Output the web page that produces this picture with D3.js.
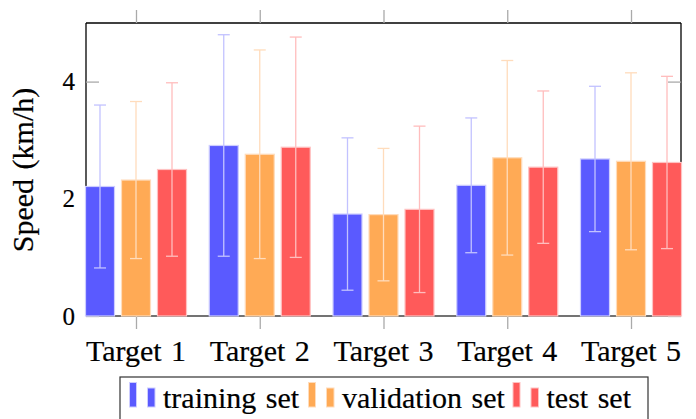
<!DOCTYPE html>
<html>
<head>
<meta charset="utf-8">
<script src="https://cdn.jsdelivr.net/npm/d3@7"></script>
<style>
  html, body { margin: 0; padding: 0; background: #fff; }
  svg text { stroke: #000; stroke-width: 0.2px; }
</style>
</head>
<body>
<svg id="chart" width="696" height="419"></svg>
<script>
// Mean speed per target and its standard deviation, for each data split
const categories = ["Target 1", "Target 2", "Target 3", "Target 4", "Target 5"];
const seriesNames = ["training set", "validation set", "test set"];
const trainingMean = [2.21, 2.91, 1.74, 2.23, 2.68];
const trainingStd = [1.39, 1.89, 1.30, 1.15, 1.24];
const validationMean = [2.32, 2.76, 1.73, 2.70, 2.64];
const validationStd = [1.34, 1.78, 1.13, 1.66, 1.51];
const testMean = [2.50, 2.88, 1.82, 2.54, 2.62];
const testStd = [1.48, 1.88, 1.42, 1.30, 1.47];
const yTicks = [0, 2, 4];
const yLabel = "Speed (km/h)";

const means = [trainingMean, validationMean, testMean];
const stds = [trainingStd, validationStd, testStd];
const fills = ["#5a5aff", "#ffaa55", "#ff5a5a"];
const edges = ["#cdcdff", "#ffdcbb", "#ffc2c2"];
const errColors = ["#c2c2ff", "#ffdcbc", "#ffbdbd"];
const serif = "Liberation Serif";

const svg = d3.select("#chart").attr("font-family", serif);
const plotLeft = 86, plotRight = 681, plotTop = 23, plotBottom = 316;

const x = d3.scaleLinear().domain([0.596, 5.404]).range([plotLeft, plotRight]);
const y = d3.scaleLinear().domain([0, 5]).range([plotBottom, plotTop]);

const barShift = 36, barWidth = 29, capHalf = 6;

// frame
const frame = svg.append("g");
frame.append("line").attr("x1", plotLeft).attr("x2", plotRight).attr("y1", plotBottom).attr("y2", plotBottom)
  .attr("stroke", "#444").attr("stroke-width", 1.3);
frame.append("line").attr("x1", plotLeft).attr("x2", plotRight).attr("y1", plotTop).attr("y2", plotTop)
  .attr("stroke", "#000").attr("stroke-width", 1.3);
frame.append("line").attr("x1", plotLeft).attr("x2", plotLeft).attr("y1", plotTop).attr("y2", plotBottom)
  .attr("stroke", "#000").attr("stroke-width", 1.3);
frame.append("line").attr("x1", plotRight).attr("x2", plotRight).attr("y1", plotTop).attr("y2", plotBottom)
  .attr("stroke", "#000").attr("stroke-width", 1.3);

// x ticks outside top and bottom
const catIdx = categories.map((c, i) => i + 1);
const xAxisBottom = d3.axisBottom(x).tickValues(catIdx).tickSize(13).tickFormat("");
const xAxisTop = d3.axisTop(x).tickValues(catIdx).tickSize(13).tickFormat("");
[svg.append("g").attr("transform", `translate(0,${plotBottom})`).call(xAxisBottom),
 svg.append("g").attr("transform", `translate(0,${plotTop})`).call(xAxisTop)].forEach(g => {
  g.select(".domain").remove();
  g.selectAll(".tick line").attr("stroke", "#aaa").attr("stroke-width", 1.3);
});

// y ticks inside left and right
const yAxisLeft = d3.axisRight(y).tickValues(yTicks).tickSize(13).tickFormat("");
const yAxisRight = d3.axisLeft(y).tickValues(yTicks).tickSize(13).tickFormat("");
[svg.append("g").attr("transform", `translate(${plotLeft},0)`).call(yAxisLeft),
 svg.append("g").attr("transform", `translate(${plotRight},0)`).call(yAxisRight)].forEach(g => {
  g.select(".domain").remove();
  g.selectAll(".tick line").attr("stroke", "#aaa").attr("stroke-width", 1.3);
});

// y tick labels
svg.append("g").selectAll("text").data(yTicks).join("text")
  .attr("x", 75).attr("y", d => y(d)).attr("dy", "0.34em")
  .attr("text-anchor", "end").attr("font-size", 25).attr("fill", "#000")
  .attr("font-family", serif)
  .text(d => d);

// x category labels
svg.append("g").selectAll("text").data(categories).join("text")
  .attr("x", (d, i) => x(i + 1)).attr("y", 361)
  .attr("text-anchor", "middle").attr("font-size", 30).attr("fill", "#000")
  .attr("font-family", serif).attr("word-spacing", 2)
  .text(d => d);

// y axis title
svg.append("text")
  .attr("transform", `translate(33,170) rotate(-90)`)
  .attr("text-anchor", "middle").attr("font-size", 30).attr("fill", "#000")
  .attr("font-family", serif).attr("word-spacing", 2)
  .text(yLabel);

// bars
seriesNames.forEach((name, s) => {
  const g = svg.append("g");
  const off = (s - 1) * barShift;
  g.selectAll("rect").data(means[s]).join("rect")
    .attr("x", (d, i) => x(i + 1) + off - barWidth / 2)
    .attr("width", barWidth)
    .attr("y", d => y(d))
    .attr("height", d => y(0) - y(d))
    .attr("fill", fills[s]).attr("stroke", edges[s]).attr("stroke-width", 1.2);
});

// error bars (mean ± std)
seriesNames.forEach((name, s) => {
  const g = svg.append("g").attr("stroke", errColors[s]).attr("stroke-width", 1.3).attr("fill", "none");
  const off = (s - 1) * barShift;
  means[s].forEach((m, i) => {
    const cx = x(i + 1) + off;
    const lo = y(m - stds[s][i]), hi = y(m + stds[s][i]);
    g.append("line").attr("x1", cx).attr("x2", cx).attr("y1", lo).attr("y2", hi);
    g.append("line").attr("x1", cx - capHalf).attr("x2", cx + capHalf).attr("y1", lo).attr("y2", lo);
    g.append("line").attr("x1", cx - capHalf).attr("x2", cx + capHalf).attr("y1", hi).attr("y2", hi);
  });
});

// legend
const legend = svg.append("g");
legend.append("rect").attr("x", 120).attr("y", 377).attr("width", 528).attr("height", 60)
  .attr("fill", "#fff").attr("stroke", "#333").attr("stroke-width", 1.2);
const entryX = [129, 308, 512.5];
seriesNames.forEach((name, s) => {
  const ex = entryX[s];
  legend.append("rect").attr("x", ex + 0.5).attr("y", 382.5).attr("width", 7).attr("height", 24.5)
    .attr("fill", fills[s]).attr("stroke", edges[s]).attr("stroke-width", 1);
  legend.append("rect").attr("x", ex + 18.5).attr("y", 388).attr("width", 7.5).attr("height", 19)
    .attr("fill", fills[s]).attr("stroke", edges[s]).attr("stroke-width", 1);
  legend.append("text").attr("x", ex + 34).attr("y", 407.5)
    .attr("font-size", 30).attr("fill", "#000").attr("word-spacing", 2)
    .attr("font-family", serif)
    .text(name);
});
</script>
</body>
</html>
